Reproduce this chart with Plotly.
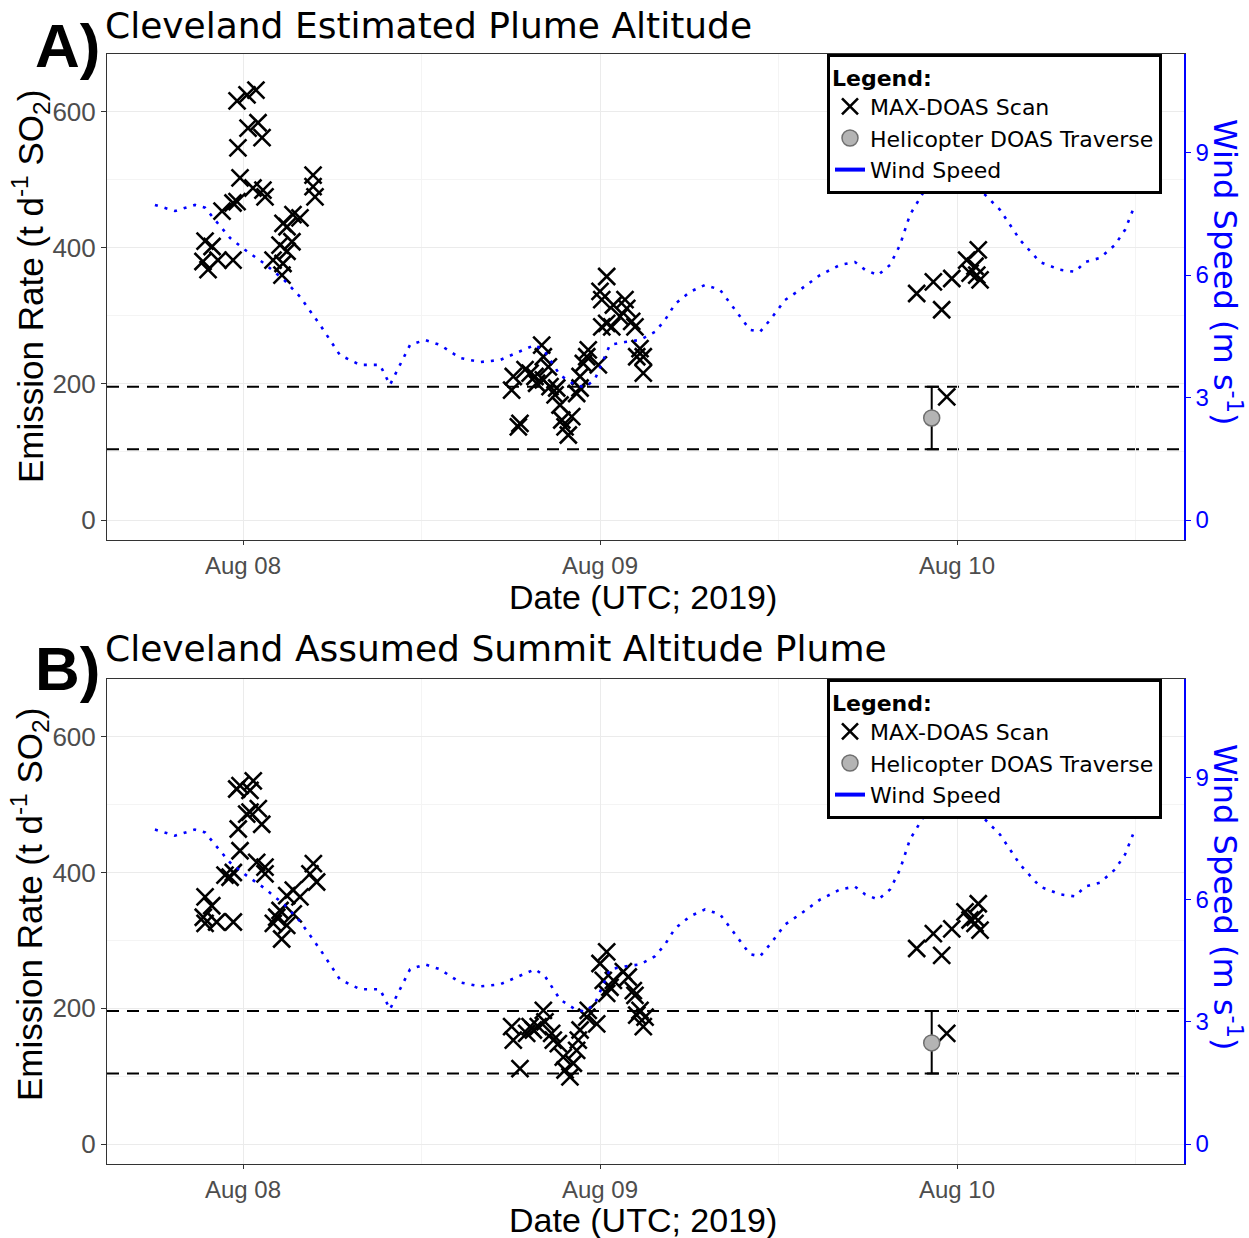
import pandas as pd
import plotly.graph_objects as go

# ---------------- data (hours since 2019-08-08 00:00 UTC) ----------------
scan_A_hours = [-0.40, 0.27, 0.87, 0.34, 1.01, 1.28, -0.34, -0.20, 0.67, 1.34, 1.48, -1.41, -0.67, -0.40,
                -2.55, -2.08, -2.69, -2.35, -1.68, -0.67, 3.36, 3.83, 2.69, 2.96, 2.49, 3.29, 2.96, 2.02,
                2.69, 2.62, 4.71, 4.71, 4.84,
                24.45, 24.0, 24.12, 24.90, 25.68, 25.80, 24.45, 24.12, 24.79, 25.35, 26.13, 26.35, 26.69,
                26.91, 26.47, 26.91, 23.21, 23.11, 22.88, 23.89, 22.66, 22.43, 22.66, 22.10, 21.87, 21.65,
                21.43, 21.31, 20.98, 21.09, 20.64, 20.19, 20.53, 20.08, 20.19, 19.30, 18.96, 19.63, 18.17,
                18.06, 18.62, 18.51, 19.74,
                45.29, 46.41, 47.65, 46.97, 48.65, 49.43, 49.21, 49.33, 49.55, 48.88, 47.31]
scan_A_values = [616, 625, 632, 576, 584, 562, 547, 503, 488, 485, 475, 454, 466, 468,
                 410, 402, 380, 368, 382, 382, 449, 444, 436, 431, 404, 409, 395, 382,
                 377, 360, 507, 490, 475,
                 358, 336, 324, 316, 324, 311, 289, 284, 284, 299, 292, 284, 252,
                 240, 240, 216, 250, 240, 230, 228, 211, 186, 194, 152, 125, 137,
                 147, 169, 184, 194, 196, 206, 225, 257, 240, 216, 221, 211, 211,
                 191, 142, 137, 201,
                 333, 350, 355, 309, 382, 397, 373, 360, 353, 363, 181]

scan_B_hours = [-0.20, 0.69, 0.47, -0.42, 0.47, 1.03, 1.26, -0.32, 0.25, -0.20, 0.92, 1.48, 1.48, -1.21,
                -0.65, -0.87, -2.55, -2.10, -2.67, -2.55, -1.77, -0.65, 4.73, 4.50, 4.95, 2.94, 3.38, 3.83,
                2.49, 2.27, 3.38, 2.94, 2.04, 2.60,
                24.45, 24.0, 24.22, 24.67, 25.57, 25.90, 24.90, 24.45, 26.24, 26.35, 26.69, 27.03, 26.91,
                26.47, 23.21, 23.11, 23.78, 22.66, 22.54, 22.43, 22.21, 21.98, 21.65, 21.53, 21.20, 20.86,
                20.19, 20.30, 19.85, 19.30, 19.07, 18.06, 18.17, 18.62, 19.52, 20.75,
                45.29, 46.41, 47.65, 46.97, 48.54, 49.43, 49.21, 49.21, 49.55, 48.88, 47.31]
scan_B_values = [528, 535, 521, 523, 489, 494, 471, 464, 486, 432, 415, 408, 398, 396,
                 400, 393, 364, 351, 334, 325, 327, 327, 413, 398, 386, 366, 374, 364,
                 344, 334, 339, 322, 325, 302,
                 283, 266, 241, 231, 254, 246, 241, 222, 226, 219, 197, 187, 173,
                 190, 197, 187, 177, 168, 153, 138, 119, 99, 109, 128, 148, 153,
                 197, 180, 173, 173, 163, 173, 153, 111, 168, 163,
                 288, 310, 317, 278, 342, 354, 334, 325, 315, 330, 163]

heli_hours = [46.30]
heli_A_value = [150]
heli_B_value = [149]
heli_low = [104]
heli_high = [196]
dash_levels = [104, 196]

wind_hours = [-5.92, -4.57, -3.23, -2.55, -1.88, -0.87, 0.13, 1.48, 2.82, 3.83, 5.18, 6.52, 7.87, 9.21,
              9.88, 10.55, 11.23, 12.24, 13.24, 14.59, 15.93, 17.28, 18.62, 19.63, 20.30, 21.31, 22.32,
              22.99, 23.66, 24.67, 25.68, 26.69, 27.70, 28.37, 29.04, 30.05, 31.06, 32.07, 33.08, 34.08,
              34.76, 35.43, 36.44, 37.45, 38.79, 40.14, 41.14, 41.82, 42.69, 43.50, 44.17, 44.84, 45.85,
              47.20, 48.54, 49.88, 50.89, 52.24, 53.58, 54.93, 55.94, 56.61, 57.62, 58.62, 59.30, 59.83]
wind_speed = [7.72, 7.57, 7.72, 7.65, 7.35, 6.91, 6.62, 6.27, 5.86, 5.47, 4.78, 4.04, 3.80, 3.80,
              3.31, 3.80, 4.29, 4.41, 4.29, 3.97, 3.87, 3.92, 4.12, 4.29, 4.12, 3.55, 3.31,
              3.25, 3.45, 4.29, 4.36, 4.41, 4.61, 4.90, 5.29, 5.59, 5.76, 5.64, 5.15, 4.66,
              4.61, 4.90, 5.39, 5.64, 6.00, 6.25, 6.32, 6.13, 6.00, 6.25, 6.74, 7.48, 8.09,
              8.28, 8.26, 7.97, 7.60, 6.86, 6.32, 6.13, 6.08, 6.32, 6.42, 6.74, 7.11, 7.60]

panel_titles = ["Cleveland Estimated Plume Altitude", "Cleveland Assumed Summit Altitude Plume"]
panel_letters = ["A)", "B)"]
x_ticks = ["2019-08-08", "2019-08-09", "2019-08-10"]
x_minor = ["2019-08-07 12:00", "2019-08-08 12:00", "2019-08-09 12:00", "2019-08-10 12:00"]
y_ticks = [0, 200, 400, 600]
y_minor = [100, 300, 500]
wind_ticks = [0, 3, 6, 9]
WIND_TO_RATE = 60  # secondary-axis scale (t/d per m/s)

BASE = pd.Timestamp("2019-08-08 00:00")


def to_time(hours):
    return [BASE + pd.Timedelta(hours=h) for h in hours]


# ---------------- figure ----------------
W, H = 1249, 1238
ML, MR, MT, MB = 107, 65, 54, 74
PW = W - ML - MR
PH = H - MT - MB


def px(xp):
    return (xp - ML) / PW


def py(yp):
    return (H - MB - yp) / PH


fig = go.Figure()
Y_RANGE = [-29.4, 685]
X_RANGE = ["2019-08-07 14:51:26", "2019-08-10 15:15:38"]

panels = [
    dict(xa="x", ya="y", ya2="y2", leg="legend", hours=scan_A_hours, vals=scan_A_values, heli=heli_A_value),
    dict(xa="x2", ya="y3", ya2="y4", leg="legend2", hours=scan_B_hours, vals=scan_B_values, heli=heli_B_value),
]

for p in panels:
    fig.add_trace(go.Scatter(
        x=to_time(p["hours"]), y=p["vals"], mode="markers", name="MAX-DOAS Scan",
        xaxis=p["xa"], yaxis=p["ya"], legend=p["leg"],
        marker=dict(symbol="x-thin", size=17, color="black", line=dict(width=2.6, color="black")),
    ))
    fig.add_trace(go.Scatter(
        x=to_time(heli_hours), y=p["heli"], mode="markers", name="Helicopter DOAS Traverse",
        xaxis=p["xa"], yaxis=p["ya"], legend=p["leg"],
        marker=dict(symbol="circle", size=16, color="#b4b4b4", line=dict(width=1.5, color="#6f6f6f")),
        error_y=dict(type="data", symmetric=False,
                     array=[h - v for h, v in zip(heli_high, p["heli"])],
                     arrayminus=[v - l for l, v in zip(heli_low, p["heli"])],
                     color="black", thickness=2, width=7),
    ))
    fig.add_trace(go.Scatter(
        x=[None], y=[None], mode="lines", name="Wind Speed",
        xaxis=p["xa"], yaxis=p["ya2"], legend=p["leg"],
        line=dict(color="#0000ff", width=4),
    ))
    fig.add_trace(go.Scatter(
        x=to_time(wind_hours), y=wind_speed, mode="lines", showlegend=False,
        xaxis=p["xa"], yaxis=p["ya2"],
        line=dict(color="#0000ff", width=2.6, dash="3px,7px"),
    ))
    for lvl in dash_levels:
        fig.add_shape(type="line", xref=f"{p['xa']} domain", x0=0, x1=1, yref=p["ya"], y0=lvl, y1=lvl,
                      line=dict(color="black", width=2, dash="12px,8px"), layer="below")

tick_font = dict(family="Liberation Sans, Arial", size=24, color="#4d4d4d")
grid_major = "#ebebeb"
grid_minor = "#f4f4f4"

xcommon = dict(type="date", range=X_RANGE, tickmode="array", tickvals=x_ticks, tickformat="%b %d",
               ticks="outside", ticklen=4, tickcolor="#333333", tickfont=tick_font,
               showgrid=True, gridcolor=grid_major, gridwidth=1.3,
               minor=dict(tickmode="array", tickvals=x_minor, showgrid=True, gridcolor=grid_minor, gridwidth=1),
               showline=True, linecolor="#333333", linewidth=1, mirror=True, zeroline=False)
ycommon = dict(range=Y_RANGE, tickmode="array", tickvals=y_ticks, ticks="outside", ticklen=5,
               tickcolor="#333333", tickfont=dict(family="Liberation Sans, Arial", size=26, color="#4d4d4d"),
               showgrid=True, gridcolor=grid_major, gridwidth=1.3,
               minor=dict(tickmode="array", tickvals=y_minor, showgrid=True, gridcolor=grid_minor, gridwidth=1),
               showline=True, linecolor="#333333", linewidth=1, zeroline=False)
y2common = dict(range=[r / WIND_TO_RATE for r in Y_RANGE], tickmode="array", tickvals=wind_ticks,
                side="right", ticks="outside", ticklen=5, tickcolor="#0000ff",
                tickfont=dict(family="Liberation Sans, Arial", size=24, color="#0000ff"),
                showgrid=False, showline=True, linecolor="#0000ff", linewidth=1.5, zeroline=False)

dom_A = [py(540), 1.0]
dom_B = [0.0, py(679)]

legend_common = dict(xanchor="right", yanchor="top", bgcolor="white", bordercolor="black", borderwidth=3,
                     font=dict(family="DejaVu Sans", size=22, color="black"),
                     title=dict(text="<b>Legend:</b>", font=dict(family="DejaVu Sans", size=22)),
                     itemwidth=30, tracegroupgap=0)

fig.update_layout(
    width=W, height=H, margin=dict(l=ML, r=MR, t=MT, b=MB),
    paper_bgcolor="white", plot_bgcolor="white",
    xaxis=dict(domain=[0, 1], anchor="y", **xcommon),
    yaxis=dict(domain=dom_A, anchor="x", **ycommon),
    yaxis2=dict(overlaying="y", anchor="x", **y2common),
    xaxis2=dict(domain=[0, 1], anchor="y3", **xcommon),
    yaxis3=dict(domain=dom_B, anchor="x2", **ycommon),
    yaxis4=dict(overlaying="y3", anchor="x2", **y2common),
    legend=dict(x=px(1162), y=dom_A[1], **legend_common),
    legend2=dict(x=px(1162), y=dom_B[1], **legend_common),
    showlegend=True,
)

annotations = []
title_rows = [(25, 45, 287, 272, 597), (648, 668, 905, 897, 1220)]
for i, (ty, ly, yty, wty, xty) in enumerate(title_rows):
    annotations.append(dict(text=panel_titles[i], xref="paper", yref="paper", x=px(103), y=py(ty),
                            xanchor="left", yanchor="middle", showarrow=False,
                            font=dict(family="DejaVu Sans", size=36, color="black")))
    annotations.append(dict(text=f"<b>{panel_letters[i]}</b>", xref="paper", yref="paper", x=px(67), y=py(ly),
                            xanchor="center", yanchor="middle", showarrow=False,
                            font=dict(family="Liberation Sans, Arial", size=62, color="black")))
    annotations.append(dict(text="Emission Rate (t d<sup>-1</sup> SO<sub>2</sub>)", xref="paper", yref="paper",
                            x=px(30), y=py(yty), xanchor="center", yanchor="middle", textangle=-90,
                            showarrow=False, font=dict(family="Liberation Sans, Arial", size=35, color="black")))
    annotations.append(dict(text="Wind Speed (m s<sup>-1</sup>)", xref="paper", yref="paper",
                            x=px(1227), y=py(wty), xanchor="center", yanchor="middle", textangle=90,
                            showarrow=False, font=dict(family="DejaVu Sans", size=32, color="#0000ff")))
    annotations.append(dict(text="Date (UTC; 2019)", xref="paper", yref="paper", x=px(643), y=py(xty),
                            xanchor="center", yanchor="middle", showarrow=False,
                            font=dict(family="Liberation Sans, Arial", size=34, color="black")))
fig.update_layout(annotations=annotations)

fig.write_html("out.html")
